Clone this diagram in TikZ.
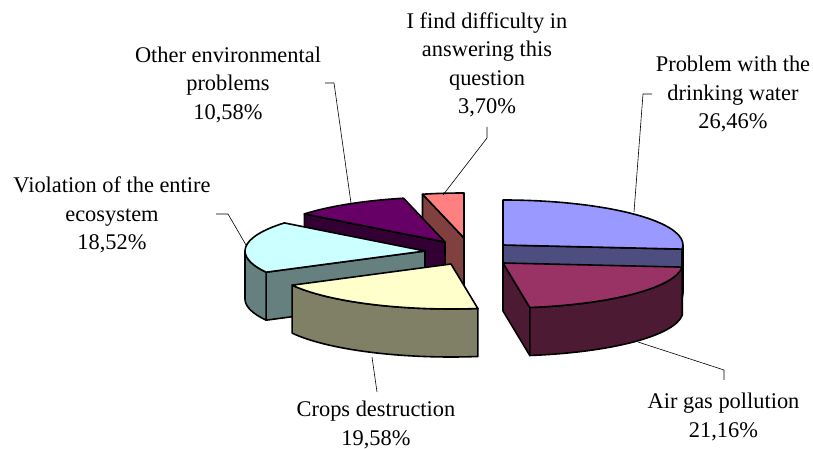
\documentclass[tikz,border=0pt]{standalone}
\usepackage{fontspec}
\setmainfont{Liberation Serif}
\usetikzlibrary{calc}
\definecolor{wtop}{HTML}{9999FF}\definecolor{wside}{HTML}{4D4D80}
\definecolor{atop}{HTML}{993366}\definecolor{aside}{HTML}{4D1A33}
\definecolor{ctop}{HTML}{FFFFCC}\definecolor{cside}{HTML}{808066}
\definecolor{vtop}{HTML}{CCFFFF}\definecolor{vside}{HTML}{668080}
\definecolor{otop}{HTML}{660066}\definecolor{oside}{HTML}{330033}
\definecolor{dtop}{HTML}{FF8080}\definecolor{dside}{HTML}{804040}
\tikzset{
  pe/.style={draw=black, line width=1.6pt, line join=round},
  lbl/.style={align=center, inner sep=0pt, font=\fontsize{22.4pt}{28.5pt}\selectfont},
  leader/.style={draw=black, line width=0.6pt},
  ell/.style={x radius=180pt, y radius=45pt}
}
\begin{document}
\begin{tikzpicture}[x=1pt,y=1pt]
\useasboundingbox (0,0) rectangle (813,449);
\fill[white] (0,0) rectangle (813,449);
% centres of the slices
\coordinate (cW) at (503,204);
\coordinate (cA) at (503,186);
\coordinate (cC) at (451,185);
\coordinate (cV) at (425,198);
\coordinate (cO) at (445,207);
\coordinate (cD) at (464,211);
% Difficulty
\filldraw[pe, fill=dside] (cD) -- ++(103.32:180pt and 45pt) -- ++(0,-48pt) -- ([yshift=-48pt]cD) -- cycle;
\filldraw[pe, fill=dtop] (cD) -- ++(103.32:180pt and 45pt) arc[start angle=103.32, end angle=90, ell] -- cycle;
% Other
\filldraw[pe, fill=oside] (cO) -- ++(141.41:180pt and 45pt) -- ++(0,-48pt) -- ([yshift=-48pt]cO) -- cycle;
\filldraw[pe, fill=otop] (cO) -- ++(141.41:180pt and 45pt) arc[start angle=141.41, end angle=103.32, ell] -- cycle;
% Violation
\filldraw[pe, fill=vside] (cV) -- ++(208.08:180pt and 45pt) -- ++(0,-48pt) -- ([yshift=-48pt]cV) -- cycle;
\filldraw[pe, fill=vside] ($(cV)+(208.08:180pt and 45pt)$) arc[start angle=208.08, end angle=180, ell] -- ++(0,-48pt) arc[start angle=180, end angle=208.08, ell] -- cycle;
\filldraw[pe, fill=vtop] (cV) -- ++(208.08:180pt and 45pt) arc[start angle=208.08, end angle=141.41, ell] -- cycle;
% Crops
\filldraw[pe, fill=cside] ($(cC)+(-81.43:180pt and 45pt)$) arc[start angle=-81.43, end angle=-151.92, ell] -- ++(0,-48pt) arc[start angle=-151.92, end angle=-81.43, ell] -- cycle;
\filldraw[pe, fill=ctop] (cC) -- ++(-81.43:180pt and 45pt) arc[start angle=-81.43, end angle=-151.92, ell] -- cycle;
% Water
\filldraw[pe, fill=wside] (cW) -- ++(-5.26:180pt and 45pt) -- ++(0,-48pt) -- ([yshift=-48pt]cW) -- cycle;
\filldraw[pe, fill=wside] ($(cW)+(0:180pt and 45pt)$) arc[start angle=0, end angle=-5.26, ell] -- ++(0,-48pt) arc[start angle=-5.26, end angle=0, ell] -- cycle;
\filldraw[pe, fill=wtop] (cW) -- ++(90:180pt and 45pt) arc[start angle=90, end angle=-5.26, ell] -- cycle;
% Air
\filldraw[pe, fill=aside] (cA) -- ++(-81.43:180pt and 45pt) -- ++(0,-48pt) -- ([yshift=-48pt]cA) -- cycle;
\filldraw[pe, fill=aside] ($(cA)+(-5.26:180pt and 45pt)$) arc[start angle=-5.26, end angle=-81.43, ell] -- ++(0,-48pt) arc[start angle=-81.43, end angle=-5.26, ell] -- cycle;
\filldraw[pe, fill=atop] (cA) -- ++(-5.26:180pt and 45pt) arc[start angle=-5.26, end angle=-81.43, ell] -- cycle;
% labels
\node[lbl] (tO) at (228,364.5) {Other environmental\\problems\\10,58\%};
\node[lbl] (tD) at (487,384) {I find difficulty in\\answering this\\question\\3,70\%};
\node[lbl] (tW) at (733,355) {Problem with the\\drinking water\\26,46\%};
\node[lbl] (tV) at (112,234) {Violation of the entire\\ecosystem\\18,52\%};
\node[lbl] (tC) at (376,24) {Crops destruction\\19,58\%};
\node[lbl] (tA) at (723.5,32) {Air gas pollution\\21,16\%};
% leader lines
\coordinate (lO1) at (325,366); \coordinate (lO2) at (334,366); \coordinate (lO3) at (351,246);
\coordinate (lV1) at (216,235); \coordinate (lV2) at (228,235); \coordinate (lV3) at (246,204);
\coordinate (lD1) at (487,322); \coordinate (lD2) at (487,311); \coordinate (lD3) at (443,254);
\coordinate (lW1) at (652,355); \coordinate (lW2) at (643,355); \coordinate (lW3) at (634,237);
\coordinate (lA1) at (724,69); \coordinate (lA2) at (724,79); \coordinate (lA3) at (638,107);
\coordinate (lC1) at (377,57); \coordinate (lC2) at (372,92);
\draw[leader] (lO1) -- (lO2) -- (lO3);
\draw[leader] (lV1) -- (lV2) -- (lV3);
\draw[leader] (lD1) -- (lD2) -- (lD3);
\draw[leader] (lW1) -- (lW2) -- (lW3);
\draw[leader] (lA1) -- (lA2) -- (lA3);
\draw[leader] (lC1) -- (lC2);
\end{tikzpicture}
\end{document}
